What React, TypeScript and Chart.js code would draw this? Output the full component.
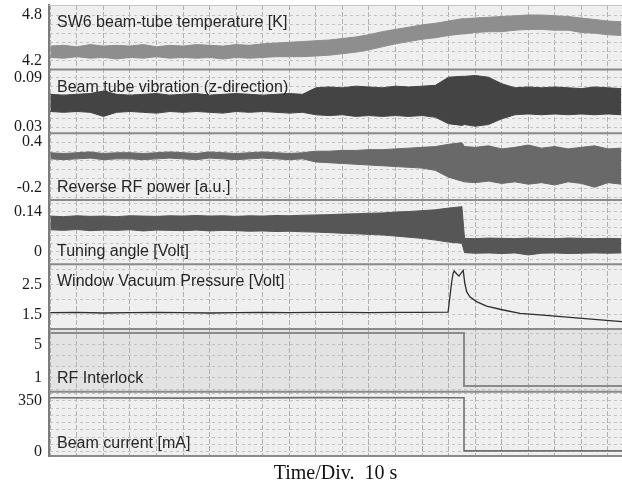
import { useEffect, useRef } from 'react';
import { Chart, registerables } from 'chart.js';

Chart.register(...registerables);

// ---------- data (time in seconds, 10 s per division) ----------
const TIME = [0, 5, 10, 15, 20, 25, 30, 35, 40, 45, 50, 55, 60, 65, 70, 75, 80, 85, 90, 95, 100, 105, 110, 115, 120, 125, 130, 135, 140, 145, 150, 155, 156, 160, 165, 170, 175, 180, 185, 190, 195, 200, 205, 210, 215];

const TEMP_HI = [4.39, 4.40, 4.38, 4.41, 4.39, 4.40, 4.39, 4.41, 4.38, 4.40, 4.39, 4.41, 4.40, 4.39, 4.41, 4.40, 4.42, 4.43, 4.44, 4.45, 4.46, 4.47, 4.49, 4.51, 4.54, 4.58, 4.61, 4.64, 4.67, 4.69, 4.72, 4.75, 4.75, 4.76, 4.77, 4.78, 4.79, 4.80, 4.80, 4.79, 4.78, 4.76, 4.74, 4.72, 4.71];
const TEMP_LO = [4.24, 4.23, 4.25, 4.23, 4.24, 4.22, 4.24, 4.23, 4.25, 4.23, 4.24, 4.23, 4.24, 4.22, 4.24, 4.23, 4.24, 4.25, 4.25, 4.25, 4.26, 4.27, 4.29, 4.31, 4.34, 4.38, 4.42, 4.45, 4.48, 4.50, 4.53, 4.55, 4.55, 4.57, 4.58, 4.58, 4.60, 4.61, 4.61, 4.60, 4.60, 4.57, 4.56, 4.54, 4.53];

const VIB_HI = [0.070, 0.069, 0.070, 0.071, 0.074, 0.070, 0.069, 0.070, 0.071, 0.069, 0.070, 0.071, 0.069, 0.070, 0.071, 0.070, 0.069, 0.070, 0.071, 0.070, 0.078, 0.079, 0.078, 0.080, 0.079, 0.078, 0.080, 0.079, 0.080, 0.081, 0.091, 0.092, 0.092, 0.093, 0.091, 0.083, 0.078, 0.079, 0.078, 0.079, 0.078, 0.077, 0.079, 0.078, 0.077];
const VIB_LO = [0.049, 0.048, 0.049, 0.048, 0.043, 0.048, 0.049, 0.048, 0.047, 0.049, 0.048, 0.049, 0.048, 0.047, 0.049, 0.048, 0.049, 0.048, 0.047, 0.048, 0.045, 0.044, 0.045, 0.043, 0.044, 0.043, 0.044, 0.043, 0.044, 0.042, 0.034, 0.032, 0.033, 0.031, 0.033, 0.040, 0.045, 0.046, 0.045, 0.046, 0.045, 0.046, 0.045, 0.046, 0.045];

const REV_HI = [0.26, 0.25, 0.26, 0.27, 0.25, 0.26, 0.26, 0.25, 0.26, 0.27, 0.26, 0.25, 0.27, 0.26, 0.25, 0.26, 0.27, 0.26, 0.25, 0.26, 0.28, 0.28, 0.29, 0.29, 0.30, 0.30, 0.31, 0.32, 0.33, 0.34, 0.37, 0.39, 0.34, 0.33, 0.35, 0.31, 0.33, 0.36, 0.32, 0.34, 0.31, 0.33, 0.35, 0.31, 0.32];
const REV_LO = [0.18, 0.17, 0.18, 0.19, 0.17, 0.18, 0.18, 0.17, 0.18, 0.19, 0.18, 0.17, 0.19, 0.18, 0.17, 0.18, 0.19, 0.18, 0.17, 0.18, 0.14, 0.13, 0.12, 0.11, 0.10, 0.09, 0.08, 0.07, 0.06, 0.03, -0.06, -0.11, -0.12, -0.13, -0.11, -0.14, -0.12, -0.15, -0.13, -0.16, -0.12, -0.14, -0.19, -0.13, -0.15];

const TUNE_HI = [0.124, 0.122, 0.125, 0.123, 0.124, 0.122, 0.125, 0.124, 0.123, 0.125, 0.124, 0.126, 0.124, 0.125, 0.123, 0.125, 0.124, 0.126, 0.125, 0.127, 0.128, 0.129, 0.131, 0.132, 0.134, 0.135, 0.138, 0.140, 0.143, 0.146, 0.152, 0.157, 0.046, 0.045, 0.047, 0.046, 0.045, 0.047, 0.046, 0.045, 0.047, 0.046, 0.045, 0.046, 0.045];
const TUNE_LO = [0.076, 0.074, 0.077, 0.073, 0.075, 0.074, 0.076, 0.072, 0.075, 0.074, 0.073, 0.075, 0.072, 0.074, 0.073, 0.071, 0.072, 0.070, 0.071, 0.069, 0.068, 0.066, 0.064, 0.062, 0.060, 0.058, 0.054, 0.050, 0.046, 0.040, 0.033, 0.029, -0.004, -0.006, -0.005, -0.007, -0.005, -0.012, -0.006, -0.005, -0.007, -0.006, -0.005, -0.006, -0.005];

const VAC_T = [0, 10, 20, 30, 40, 50, 60, 70, 80, 90, 100, 110, 120, 130, 140, 149.8, 151.1, 151.7, 152.1, 153, 153.9, 154.7, 155.5, 156.1, 156.8, 158, 160.5, 164.3, 170.6, 176.9, 184.4, 194.6, 207.1, 215.3];
const VAC_V = [1.56, 1.57, 1.55, 1.56, 1.57, 1.56, 1.55, 1.56, 1.57, 1.56, 1.57, 1.57, 1.56, 1.57, 1.57, 1.58, 2.55, 2.88, 2.95, 2.86, 2.78, 2.88, 2.97, 2.54, 2.26, 2.09, 1.93, 1.78, 1.65, 1.54, 1.49, 1.41, 1.32, 1.26];

const INTERLOCK_T = [0, 155.8, 155.8, 215.3];
const INTERLOCK_V = [6.37, 6.37, 0.05, 0.05];

const BEAM_T = [0, 50, 100, 155.8, 155.8, 215.3];
const BEAM_V = [372, 370, 373, 372, 4, 4];

// ---------- panels (top to bottom) ----------
const PANEL_LABELS = [
  'SW6 beam-tube temperature [K]',
  'Beam tube vibration (z-direction)',
  'Reverse RF power [a.u.]',
  'Tuning angle [Volt]',
  'Window Vacuum Pressure [Volt]',
  'RF Interlock',
  'Beam current [mA]',
];
const PANEL_TICKS = [[4.2, 4.8], [0.03, 0.09], [-0.2, 0.4], [0, 0.14], [1.5, 2.5], [1, 5], [0, 350]];
const PANEL_MIN = [4.081, 0.0223, -0.3565, -0.0448, 1.017, -0.636, -31.2];
const PANEL_MAX = [4.932, 0.1004, 0.5135, 0.1803, 3.173, 6.85, 414.4];
const PANEL_GRID_STEP = [0.12, 0.01, 0.12, 0.028, 0.5, 4 / 3, 50];
const X_LABEL = 'Time/Div.  10 s';

// styling
const PANEL_HEIGHTS = [64.5, 63.8, 66.7, 64.3, 64.7, 62.7, 64.3];
const PANEL_BG = ['#efefef', '#efefef', '#efefef', '#efefef', '#efefef', '#e3e3e3', '#efefef'];
const LABEL_ANCHOR = ['top', 'top', 'bottom', 'bottom', 'top', 'bottom', 'bottom'];
const IDS = PANEL_LABELS.map((_, i) => 'y' + i);

const pts = (xs: number[], ys: number[]) => xs.map((x, i) => ({ x, y: ys[i] }));

function band(hi: number[], lo: number[], axis: string, color: string) {
  return [
    { data: pts(TIME, hi), yAxisID: axis, borderColor: color, backgroundColor: color, borderWidth: 1, fill: '+1', pointRadius: 0, tension: 0 },
    { data: pts(TIME, lo), yAxisID: axis, borderColor: color, backgroundColor: color, borderWidth: 1, fill: false, pointRadius: 0, tension: 0 },
  ];
}

const panelPlugin = {
  id: 'panels',
  beforeDraw(chart: any) {
    const { ctx, chartArea } = chart;
    ctx.save();
    ctx.fillStyle = '#ffffff';
    ctx.fillRect(0, 0, chart.width, chart.height);
    IDS.forEach((id, i) => {
      const s = chart.scales[id];
      ctx.fillStyle = PANEL_BG[i];
      ctx.fillRect(chartArea.left, s.top, chartArea.right - chartArea.left, s.bottom - s.top);
    });
    ctx.restore();
  },
  afterDatasetsDraw(chart: any) {
    const { ctx, chartArea } = chart;
    ctx.save();
    ctx.strokeStyle = '#c4c4c4';
    ctx.lineWidth = 1;
    ctx.beginPath();
    ctx.moveTo(chartArea.left, chartArea.top + 0.5);
    ctx.lineTo(chartArea.right, chartArea.top + 0.5);
    ctx.stroke();
    ctx.strokeStyle = '#8a8a8a';
    ctx.lineWidth = 2;
    IDS.forEach((id, i) => {
      if (i === IDS.length - 1) return;
      const s = chart.scales[id];
      ctx.beginPath();
      ctx.moveTo(chartArea.left, s.bottom);
      ctx.lineTo(chartArea.right, s.bottom);
      ctx.stroke();
    });
    ctx.font = '16px "Liberation Sans", Arial, sans-serif';
    ctx.fillStyle = '#262626';
    ctx.textBaseline = 'alphabetic';
    ctx.textAlign = 'left';
    IDS.forEach((id, i) => {
      const s = chart.scales[id];
      const y = LABEL_ANCHOR[i] === 'top' ? s.top + 22 : s.bottom - 8.5;
      ctx.fillText(PANEL_LABELS[i], chartArea.left + 8, y);
    });
    ctx.restore();
  },
};

function yScale(i: number) {
  const labels = PANEL_TICKS[i];
  const step = PANEL_GRID_STEP[i];
  return {
    type: 'linear',
    position: 'left',
    stack: 'panels',
    stackWeight: PANEL_HEIGHTS[i],
    weight: IDS.length - i,
    min: PANEL_MIN[i],
    max: PANEL_MAX[i],
    afterBuildTicks: (s: any) => {
      const base = labels[0];
      const k0 = Math.ceil((s.min - base) / step - 1e-6);
      const k1 = Math.floor((s.max - base) / step + 1e-6);
      const t = [];
      for (let k = k0; k <= k1; k++) t.push({ value: base + k * step });
      s.ticks = t;
    },
    afterFit: (s: any) => {
      s.width = 49;
      s.paddingTop = 0;
      s.paddingBottom = 0;
    },
    ticks: {
      autoSkip: false,
      padding: 7,
      color: '#1a1a1a',
      font: { family: '"Liberation Serif", "Times New Roman", serif', size: 16 },
      callback: (v: number) => {
        const lab = labels.find((l) => Math.abs(l - v) < step * 1e-3);
        return lab === undefined ? '' : String(lab);
      },
    },
    grid: { color: '#c2c2c2', lineWidth: 1, drawTicks: false },
    border: { display: true, color: '#7c7c7c', width: 2, dash: [3, 3] },
  };
}

export default function App() {
  const ref = useRef<HTMLCanvasElement>(null);
  useEffect(() => {
    document.body.style.margin = '0';
    const scales: any = {
      x: {
        type: 'linear',
        min: -0.5,
        max: 215.3,
        afterBuildTicks: (s: any) => {
          const t = [];
          for (let v = 0; v <= s.max; v += 10) t.push({ value: v });
          s.ticks = t;
        },
        afterFit: (s: any) => {
          s.paddingLeft = 0;
          s.paddingRight = 0;
        },
        ticks: { display: false },
        grid: { color: '#b0b0b0', lineWidth: 1, drawTicks: false },
        border: { display: true, color: '#8a8a8a', width: 2, dash: [5, 2] },
        title: {
          display: true,
          text: X_LABEL,
          color: '#111111',
          font: { family: '"Liberation Serif", "Times New Roman", serif', size: 20 },
          padding: { top: 6, bottom: 0 },
        },
      },
    };
    IDS.forEach((id, i) => { scales[id] = yScale(i); });

    const datasets: any[] = [
      ...band(TEMP_HI, TEMP_LO, 'y0', '#8e8e8e'),
      ...band(VIB_HI, VIB_LO, 'y1', '#444444'),
      ...band(REV_HI, REV_LO, 'y2', '#696969'),
      ...band(TUNE_HI, TUNE_LO, 'y3', '#565656'),
      { data: pts(VAC_T, VAC_V), yAxisID: 'y4', borderColor: '#2e2e2e', borderWidth: 1.3, fill: false, pointRadius: 0, tension: 0 },
      { data: pts(INTERLOCK_T, INTERLOCK_V), yAxisID: 'y5', borderColor: '#8a8a8a', borderWidth: 2, fill: false, pointRadius: 0, tension: 0 },
      { data: pts(BEAM_T, BEAM_V), yAxisID: 'y6', borderColor: '#707070', borderWidth: 1.6, fill: false, pointRadius: 0, tension: 0 },
    ];

    const chart = new Chart(ref.current as HTMLCanvasElement, {
      type: 'line',
      data: { datasets },
      options: {
        animation: false,
        responsive: false,
        events: [],
        layout: { padding: { top: 5, left: 0, right: 0, bottom: 0 } },
        scales,
        plugins: { legend: { display: false }, tooltip: { enabled: false } },
      },
      plugins: [panelPlugin],
    } as any);
    return () => chart.destroy();
  }, []);
  return (
    <div style={{ position: 'absolute', left: 0, top: 0, width: 622, height: 486, background: '#fff' }}>
      <canvas ref={ref} width={622} height={486} style={{ display: 'block' }} />
    </div>
  );
}
